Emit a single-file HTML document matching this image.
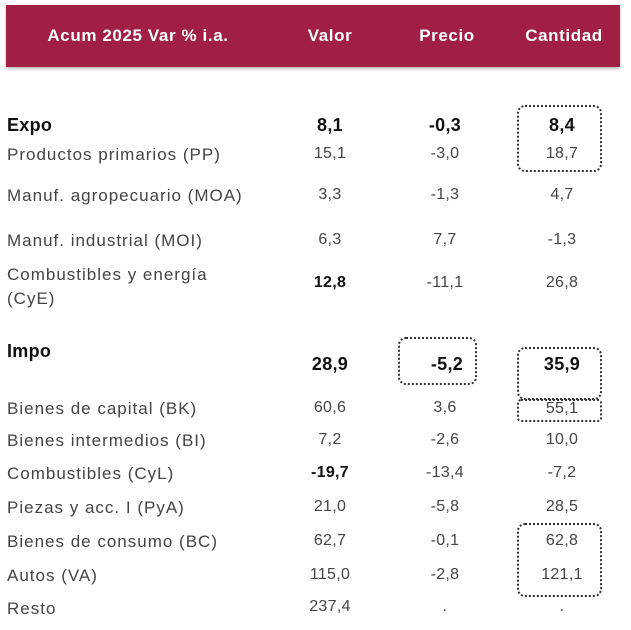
<!DOCTYPE html>
<html><head><style>
body{margin:0;width:631px;height:630px;background:#fff;position:relative;overflow:hidden;font-family:"Liberation Sans",sans-serif;}
.hdr{position:absolute;left:6px;top:5px;width:614px;height:62px;background:#a11f45;box-shadow:0 2px 3px #bbb;}
.h{position:absolute;top:26px;color:#fff;font-weight:bold;font-size:17px;letter-spacing:0.6px;transform:translateX(-50%);white-space:nowrap;}
.t{position:absolute;white-space:nowrap;color:#444;font-size:17px;letter-spacing:1px;line-height:19px;}
.v{position:absolute;white-space:nowrap;color:#444;font-size:16px;letter-spacing:0.3px;transform:translateX(-50%);line-height:18px;}
.b{font-weight:bold;color:#111;font-size:18px;letter-spacing:0.3px;}
.box{position:absolute;border:2px dotted #333;border-radius:8px;}
</style></head><body>
<div class="hdr"></div>
<div class="h" style="left:138px">Acum 2025 Var % i.a.</div>
<div class="h" style="left:330px">Valor</div>
<div class="h" style="left:447px">Precio</div>
<div class="h" style="left:564px">Cantidad</div>

<div class="t b" style="left:7px;top:116px">Expo</div>
<div class="v b" style="left:330px;top:116px">8,1</div>
<div class="v b" style="left:445px;top:116px">-0,3</div>
<div class="v b" style="left:562px;top:116px">8,4</div>

<div class="t" style="left:7px;top:145px">Productos primarios (PP)</div>
<div class="v" style="left:330px;top:145px">15,1</div>
<div class="v" style="left:445px;top:145px">-3,0</div>
<div class="v" style="left:562px;top:145px">18,7</div>

<div class="t" style="left:7px;top:186px">Manuf. agropecuario (MOA)</div>
<div class="v" style="left:330px;top:186px">3,3</div>
<div class="v" style="left:445px;top:186px">-1,3</div>
<div class="v" style="left:562px;top:186px">4,7</div>

<div class="t" style="left:7px;top:231px">Manuf. industrial (MOI)</div>
<div class="v" style="left:330px;top:231px">6,3</div>
<div class="v" style="left:445px;top:231px">7,7</div>
<div class="v" style="left:562px;top:231px">-1,3</div>

<div class="t" style="left:7px;top:263px;line-height:24px">Combustibles y energía<br>(CyE)</div>
<div class="v b" style="left:330px;top:274px;font-size:16px">12,8</div>
<div class="v" style="left:445px;top:274px">-11,1</div>
<div class="v" style="left:562px;top:274px">26,8</div>

<div class="t b" style="left:7px;top:342px">Impo</div>
<div class="v b" style="left:330px;top:355px">28,9</div>
<div class="v b" style="left:447px;top:355px">-5,2</div>
<div class="v b" style="left:562px;top:355px">35,9</div>

<div class="t" style="left:7px;top:399px">Bienes de capital (BK)</div>
<div class="v" style="left:330px;top:399px">60,6</div>
<div class="v" style="left:445px;top:399px">3,6</div>
<div class="v" style="left:562px;top:400px">55,1</div>

<div class="t" style="left:7px;top:431px">Bienes intermedios (BI)</div>
<div class="v" style="left:330px;top:431px">7,2</div>
<div class="v" style="left:445px;top:431px">-2,6</div>
<div class="v" style="left:562px;top:431px">10,0</div>

<div class="t" style="left:7px;top:464px">Combustibles (CyL)</div>
<div class="v b" style="left:330px;top:464px;font-size:16px">-19,7</div>
<div class="v" style="left:445px;top:464px">-13,4</div>
<div class="v" style="left:562px;top:464px">-7,2</div>

<div class="t" style="left:7px;top:498px">Piezas y acc. I (PyA)</div>
<div class="v" style="left:330px;top:498px">21,0</div>
<div class="v" style="left:445px;top:498px">-5,8</div>
<div class="v" style="left:562px;top:498px">28,5</div>

<div class="t" style="left:7px;top:532px">Bienes de consumo (BC)</div>
<div class="v" style="left:330px;top:532px">62,7</div>
<div class="v" style="left:445px;top:532px">-0,1</div>
<div class="v" style="left:562px;top:532px">62,8</div>

<div class="t" style="left:7px;top:566px">Autos (VA)</div>
<div class="v" style="left:330px;top:566px">115,0</div>
<div class="v" style="left:445px;top:566px">-2,8</div>
<div class="v" style="left:562px;top:566px">121,1</div>

<div class="t" style="left:7px;top:599px">Resto</div>
<div class="v" style="left:330px;top:598px">237,4</div>
<div class="v" style="left:445px;top:598px">.</div>
<div class="v" style="left:562px;top:598px">.</div>

<div class="box" style="left:517px;top:105px;width:81px;height:63px"></div>
<div class="box" style="left:398px;top:337px;width:75px;height:44px"></div>
<div class="box" style="left:517px;top:347px;width:81px;height:49px"></div>
<div class="box" style="left:517px;top:399px;width:81px;height:19px;border-radius:4px"></div>
<div class="box" style="left:517px;top:523px;width:81px;height:70px"></div>
</body></html>
